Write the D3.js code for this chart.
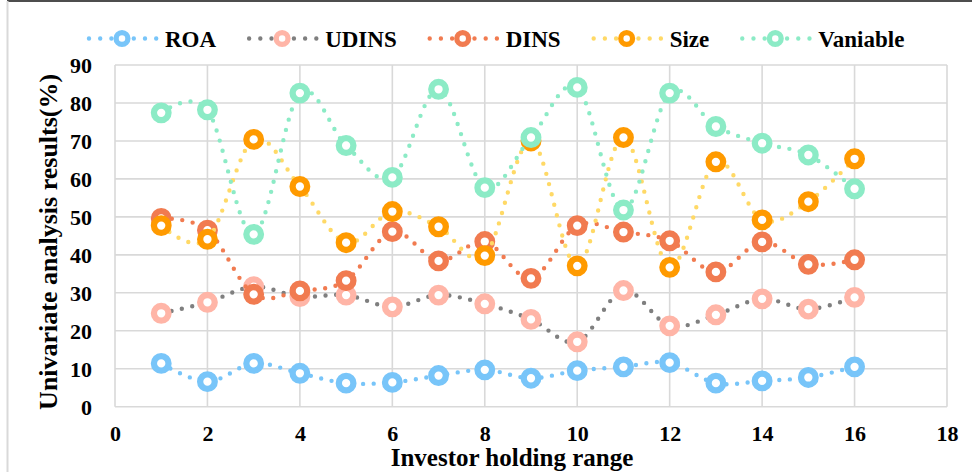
<!DOCTYPE html>
<html>
<head>
<meta charset="utf-8">
<script src="https://cdn.jsdelivr.net/npm/d3@7/dist/d3.min.js"></script>
<style>
  html, body { margin: 0; padding: 0; background: #fff; }
  svg { display: block; }
  text { font-family: "Liberation Serif", "Times New Roman", serif; font-weight: bold; fill: #000; }
</style>
</head>
<body>
<svg id="chart" width="972" height="472"></svg>
<script>
// Investor holding range categories (x values)
const holdingRange = [1, 2, 3, 4, 5, 6, 7, 8, 9, 10, 11, 12, 13, 14, 15, 16];

// Univariate analysis results (%) per series
const roa      = [11.4, 6.6, 11.4, 8.8, 6.2, 6.4, 8.2, 9.7, 7.5, 9.5, 10.5, 11.6, 6.2, 6.8, 7.7, 10.5];
const udins    = [24.6, 27.5, 31.6, 29.0, 29.4, 26.3, 29.4, 27.1, 23.0, 17.1, 30.6, 21.3, 24.2, 28.4, 25.7, 28.8];
const dins     = [49.6, 46.5, 29.6, 30.5, 33.2, 46.1, 38.4, 43.5, 33.8, 47.7, 46.0, 43.7, 35.5, 43.4, 37.5, 38.7];
const size     = [47.7, 44.1, 70.4, 58.0, 43.2, 51.4, 47.4, 39.8, 70.0, 37.1, 70.9, 36.7, 64.5, 49.2, 54.0, 65.3];
const vaniable = [77.4, 78.2, 45.4, 82.6, 68.8, 60.4, 83.6, 57.7, 70.9, 84.1, 51.8, 82.6, 73.8, 69.4, 66.3, 57.4];

const seriesNames = ["ROA", "UDINS", "DINS", "Size", "Vaniable"];
const seriesValues = [roa, udins, dins, size, vaniable];

// Axis ticks
const xTicks = [0, 2, 4, 6, 8, 10, 12, 14, 16, 18];
const yTicks = [0, 10, 20, 30, 40, 50, 60, 70, 80, 90];

// Styling: dotted line colour and marker colour for each series
const lineColors   = ["#78C5F9", "#7F7F7F", "#F17B50", "#FFD966", "#8CEBC6"];
const markerColors = ["#78C5F9", "#FFB5A7", "#F17B50", "#FF9A00", "#8CEBC6"];

const svg = d3.select("#chart");
const W = 972, H = 472;
const plot = { left: 115, right: 947, top: 65, bottom: 406.7 };

const x = d3.scaleLinear().domain([0, 18]).range([plot.left, plot.right]);
const y = d3.scaleLinear().domain([0, 90]).range([plot.bottom, plot.top]);

// Outer frame
svg.append("line").attr("x1", 7).attr("x2", W).attr("y1", 1).attr("y2", 1)
  .attr("stroke", "#4d4d4d").attr("stroke-width", 2);
svg.append("line").attr("x1", 7.5).attr("x2", 7.5).attr("y1", 1).attr("y2", H)
  .attr("stroke", "#d9d9d9").attr("stroke-width", 2);

// Gridlines
const grid = svg.append("g").attr("stroke", "#d9d9d9").attr("stroke-width", 1.6);
grid.selectAll("line.h").data(yTicks).join("line").attr("class", "h")
  .attr("x1", plot.left).attr("x2", plot.right)
  .attr("y1", d => y(d)).attr("y2", d => y(d));
grid.selectAll("line.v").data(xTicks).join("line").attr("class", "v")
  .attr("x1", d => x(d)).attr("x2", d => x(d))
  .attr("y1", plot.top).attr("y2", plot.bottom);

// Axes (labels only; lines are drawn by the grid)
const xAxis = d3.axisBottom(x).tickValues(xTicks).tickSize(0).tickPadding(0).tickFormat(d3.format("d"));
const gx = svg.append("g").attr("transform", `translate(0,${plot.bottom})`).call(xAxis);
gx.select(".domain").remove();
gx.selectAll("text").attr("y", 34).attr("dy", null)
  .style("font-size", "22px").style("font-family", "Liberation Serif, serif").style("font-weight", "bold").attr("fill", "#000");

const yAxis = d3.axisLeft(y).tickValues(yTicks).tickSize(0).tickPadding(0).tickFormat(d3.format("d"));
const gy = svg.append("g").attr("transform", `translate(${plot.left},0)`).call(yAxis);
gy.select(".domain").remove();
gy.selectAll("text").attr("x", -23).attr("dy", "0.35em")
  .style("font-size", "22px").style("font-family", "Liberation Serif, serif").style("font-weight", "bold").attr("fill", "#000");

// Axis titles
svg.append("text").attr("x", 512).attr("y", 466).attr("text-anchor", "middle")
  .style("font-size", "25px").text("Investor holding range");
svg.append("text").attr("transform", `translate(57,${(plot.top + plot.bottom) / 2 + 6}) rotate(-90)`)
  .attr("text-anchor", "middle").style("font-size", "26px").text("Univariate analysis results(%)");

// Series: smoothed dotted lines with ring markers
const line = d3.line()
  .x(d => x(d.x)).y(d => y(d.y))
  .curve(d3.curveCardinal.tension(0));

const MARKER_R = 7.3, MARKER_W = 6.3;

seriesValues.forEach((vals, i) => {
  const pts = holdingRange.map((hx, j) => ({ x: hx, y: vals[j] }));
  const g = svg.append("g").attr("class", "series");
  g.append("path").datum(pts).attr("d", line)
    .attr("fill", "none").attr("stroke", lineColors[i])
    .attr("stroke-width", 4.4).attr("stroke-linecap", "round")
    .attr("stroke-dasharray", "0 10.6");
  g.selectAll("circle").data(pts).join("circle")
    .attr("cx", d => x(d.x)).attr("cy", d => y(d.y)).attr("r", MARKER_R)
    .attr("fill", "#fff").attr("stroke", markerColors[i]).attr("stroke-width", MARKER_W);
});

// Legend
const legend = svg.append("g");
let lx = 87;
const ly = 38.5;
seriesNames.forEach((name, i) => {
  const item = legend.append("g");
  item.append("line").attr("x1", lx + 2).attr("x2", lx + 70).attr("y1", ly).attr("y2", ly)
    .attr("stroke", lineColors[i]).attr("stroke-width", 4.4)
    .attr("stroke-linecap", "round").attr("stroke-dasharray", "0 11.2");
  item.append("circle").attr("cx", lx + 35).attr("cy", ly).attr("r", 5.9)
    .attr("fill", "#fff").attr("stroke", markerColors[i]).attr("stroke-width", 5.3);
  const t = item.append("text").attr("x", lx + 78).attr("y", 46.5)
    .style("font-size", "23px").text(name);
  lx += 78 + t.node().getComputedTextLength() + 31;
});
</script>
</body>
</html>
